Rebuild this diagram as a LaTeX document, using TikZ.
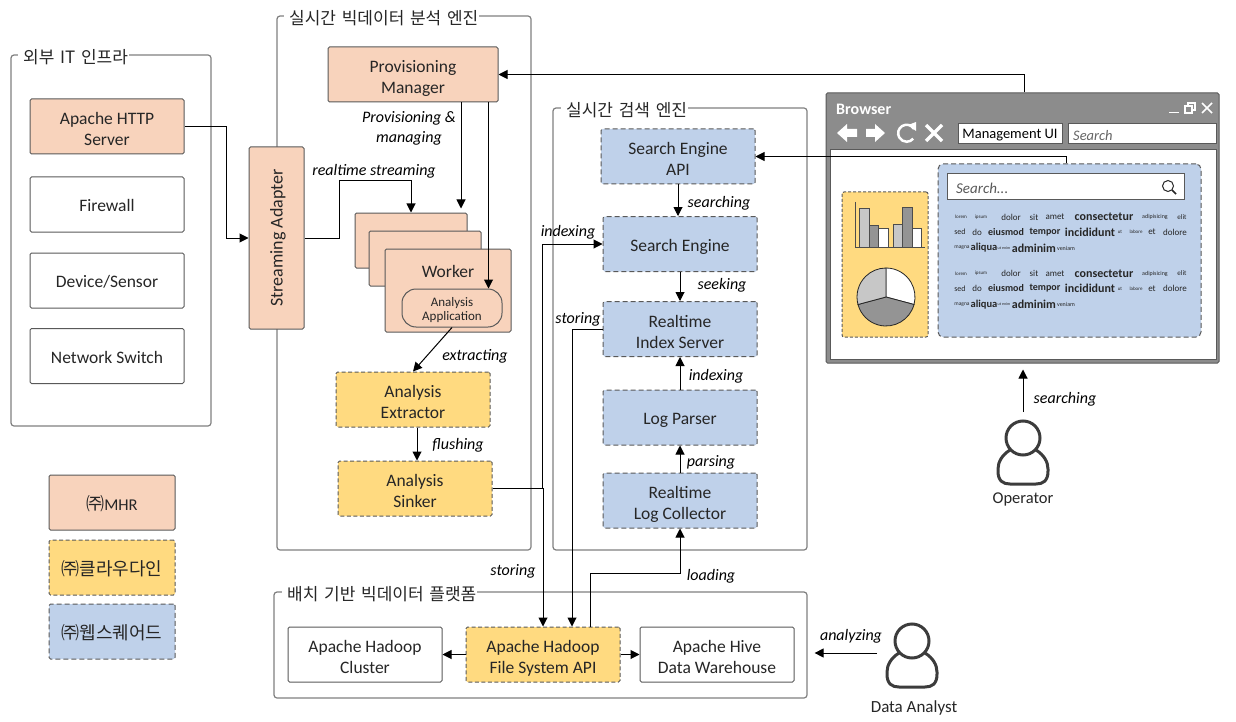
\documentclass[tikz,border=0pt]{standalone}
\usepackage{fontspec}
\setmainfont{Carlito}
\newfontfamily\krfont[WordSpace=1.5]{Noto Sans CJK KR}
\usetikzlibrary{arrows.meta,calc}

\definecolor{mhrfill}{HTML}{F8D3BC}
\definecolor{cloudfill}{HTML}{FFDA80}
\definecolor{wsqfill}{HTML}{BFD1EA}
\definecolor{boxline}{HTML}{595959}
\definecolor{frameline}{HTML}{7F7F7F}
\definecolor{browsergray}{HTML}{8C8C8C}
\definecolor{ink}{HTML}{262626}

% two centred lines, set a little below the middle of their box
\newcommand{\twolines}[2]{\rule{0pt}{22pt}#1\\#2\rule[-4pt]{0pt}{4pt}}

\tikzset{
  frame/.style={draw=frameline, line width=1.2pt, rounded corners=3pt, inner sep=0},
  frametitle/.style={fill=white, inner sep=1pt, anchor=west, text=ink, font=\krfont\fontsize{17}{19}\selectfont},
  box/.style={draw=boxline, line width=1pt, rounded corners=1.5pt, minimum width=154pt, minimum height=55pt,
    inner sep=0, align=center, text=ink, font=\fontsize{17.5}{21}\selectfont,
    execute at begin node={\rule{0pt}{19pt}}, execute at end node={\rule[-5pt]{0pt}{5pt}}},
  mhrbox/.style={box, fill=mhrfill},
  cloudbox/.style={box, fill=cloudfill, dashed, dash pattern=on 4pt off 2.5pt},
  wsqbox/.style={box, fill=wsqfill, dashed, dash pattern=on 5pt off 3pt},
  legendtext/.style={font=\krfont\fontsize{18}{21}\selectfont, execute at begin node={\rule{0pt}{21pt}}},
  lbl/.style={inner sep=0, align=center, yshift=-1pt, font=\itshape\fontsize{16}{20}\selectfont},
  wire/.style={->, black, line width=1pt},
  >={Triangle[length=9pt,width=9pt]},
  person/.pic={
    \draw[line width=3pt, draw=ink!90, fill=white, rounded corners=1pt]
      (-13,12) .. controls (-21,17) and (-25,24) .. (-25,32)
      .. controls (-25,43) and (-20,46) .. (-12,46) -- (12,46)
      .. controls (20,46) and (25,43) .. (25,32)
      .. controls (25,24) and (21,17) .. (13,12);
    \draw[line width=3pt, draw=ink!90, fill=white] (0,0) circle (17);
  },
}

\begin{document}
\begin{tikzpicture}[x=1pt, y=-1pt]
  \useasboundingbox (0,0) rectangle (1236,722);

  % Group frames
  \node[frame, minimum width=200pt, minimum height=371pt] (infra) at (111,240.5) {};
  \node[frame, minimum width=254pt, minimum height=534pt] (analytics) at (404,283) {};
  \node[frame, minimum width=254pt, minimum height=442pt] (searching) at (680,329) {};
  \node[frame, minimum width=533pt, minimum height=106pt] (batch) at (540.5,645) {};
  \node[frametitle] (infratitle) at (18,57) {\hspace{4pt}외부 IT 인프라};
  \node[frametitle] (analyticstitle) at (284,18) {\hspace{4pt}실시간 빅데이터 분석 엔진};
  \node[frametitle] (searchingtitle) at (561,110) {\hspace{4pt}실시간 검색 엔진};
  \node[frametitle] (batchtitle) at (282,594) {\hspace{4pt}배치 기반 빅데이터 플랫폼};

  % Infrastructure and legend
  \node[mhrbox] (http) at (107,126.5) {\twolines{Apache HTTP}{Server}};
  \node[box, fill=white] (firewall) at (107,204.5) {Firewall};
  \node[box, fill=white] (device) at (107,280.5) {Device/Sensor};
  \node[box, fill=white] (switch) at (107,356) {Network Switch};
  \node[mhrbox, minimum width=126pt, legendtext] (legendmhr) at (112,502.5) {㈜\rmfamily\fontsize{16.5}{21}\selectfont MHR};
  \node[cloudbox, minimum width=126pt, legendtext] (legendcloud) at (112,567.5) {㈜클라우다인};
  \node[wsqbox, minimum width=126pt, legendtext] (legendwsq) at (112,631.5) {㈜웹스퀘어드};

  % Analytics engine
  \node[mhrbox, minimum width=55pt, minimum height=182pt] (adapter) at (276.5,238) {};
  \node[rotate=90, text=ink, font=\fontsize{18}{21}\selectfont] (adaptertext) at (278,238) {Streaming Adapter};
  \node[mhrbox, minimum width=170pt] (manager) at (413,74.5) {\twolines{Provisioning}{Manager}};
  \node[mhrbox, minimum width=112pt] (workerback) at (411,240.5) {};
  \node[mhrbox, minimum width=112pt] (workermid) at (425,258.5) {};
  \node[mhrbox, minimum width=126pt, minimum height=83pt] (worker) at (448,290.5) {};
  \node[text=ink, font=\fontsize{17.5}{21}\selectfont] (workertext) at (448,271) {Worker};
  \node[draw=boxline, line width=1pt, fill=mhrfill, rounded corners=14pt, minimum width=100pt, minimum height=38pt,
    inner sep=0, align=center, text=ink, font=\fontsize{13}{14}\selectfont] (app) at (452,308) {\rule{0pt}{14pt}Analysis\\Application\rule[-4pt]{0pt}{4pt}};
  \node[cloudbox] (extractor) at (413,399.5) {\twolines{Analysis}{Extractor}};
  \node[cloudbox] (sinker) at (415,488.5) {\twolines{Analysis}{Sinker}};

  % Search engine
  \node[wsqbox] (api) at (678,156.5) {\twolines{Search Engine}{API}};
  \node[wsqbox] (engine) at (680,244) {Search Engine};
  \node[wsqbox] (index) at (680,329) {\twolines{Realtime}{Index Server}};
  \node[wsqbox] (parser) at (680,417.5) {Log Parser};
  \node[wsqbox] (collector) at (680,500.5) {\twolines{Realtime}{Log Collector}};

  % Batch platform
  \node[box, fill=white] (cluster) at (365,654.5) {\twolines{Apache Hadoop}{Cluster}};
  \node[cloudbox] (hdfs) at (543,654.5) {\twolines{Apache Hadoop}{File System API}};
  \node[box, fill=white] (hive) at (717,654.5) {\twolines{Apache Hive}{Data Warehouse}};

  % Browser
  \node[draw=boxline, line width=1pt, fill=browsergray, rounded corners=1.5pt, minimum width=393pt, minimum height=270pt, inner sep=0] (browser) at (1022.5,228) {};
  \node[draw=boxline, line width=1pt, fill=white, minimum width=386pt, minimum height=209pt, inner sep=0] (page) at (1023,254.5) {};
  \node[anchor=west, inner sep=0, text=white, font=\bfseries\fontsize{16}{18}\selectfont] (browsertitle) at (836,109) {Browser};
  \node[draw=boxline, fill=white, minimum width=104pt, minimum height=20pt, inner sep=0] (address) at (1010,133.5) {};
  \node[inner sep=0, font=\fontsize{14.5}{18}\selectfont] (addresstext) at (1010,135) {Management UI};
  \node[draw=boxline, fill=white, minimum width=148pt, minimum height=20pt, inner sep=0] (searchfield) at (1142,133.5) {};
  \node[anchor=west, inner sep=0, text=black!60, font=\itshape\fontsize{14.5}{18}\selectfont] (searchfieldtext) at (1073,135.5) {Search};
  \node[draw=boxline, dashed, dash pattern=on 3pt off 2pt, line width=1pt, fill=cloudfill, rounded corners=2pt, minimum width=86pt, minimum height=145pt, inner sep=0] (chartpanel) at (885,264.5) {};
  \node[draw=boxline, dashed, dash pattern=on 5pt off 3pt, line width=1pt, fill=wsqfill, rounded corners=5pt, minimum width=263pt, minimum height=173pt, inner sep=0] (textpanel) at (1069.5,250.5) {};
  \node[draw=boxline, fill=white, line width=1pt, minimum width=237pt, minimum height=26pt, inner sep=0] (searchbar) at (1065.5,187) {};
  \node[anchor=west, inner sep=0, text=black!65, font=\itshape\fontsize{15}{18}\selectfont] (searchbartext) at (956,188) {Search...};

  % Browser icons
  \fill[white] (837,133) -- (847,124) -- (847,129) -- (857,129) -- (857,137) -- (847,137) -- (847,142) -- cycle;
  \fill[white] (885,133) -- (875,124) -- (875,129) -- (866,129) -- (866,137) -- (875,137) -- (875,142) -- cycle;
  \draw[white, line width=2.5pt] (914,129) arc[start angle=-30, end angle=-320, radius=8.5];
  \fill[white] (908,125) -- (916,122) -- (916,131) -- cycle;
  \draw[white, line width=3.5pt] (926,125) -- (942,141) (942,125) -- (926,141);
  \draw[white, line width=1.5pt] (1169,112.5) -- (1179,112.5);
  \draw[white, line width=1.2pt] (1185,106) rectangle (1192,113) (1188,106) -- (1188,103) -- (1195,103) -- (1195,110) -- (1192,110);
  \draw[white, line width=1.5pt] (1202,103) -- (1212,113) (1212,103) -- (1202,113);
  \draw[ink, line width=1pt] (1168,186) circle (5.5);
  \draw[ink, line width=1.6pt] (1172,190) -- (1176,194);

  % Bar chart
  \foreach \bx/\bw/\bt/\bc in {859/10/208/black!22, 869/9/225/black!42, 878/10/228/white, 893/9/224/black!22, 902/10/207/black!42, 912/9/228/white}
    \draw[fill=\bc, draw=black!70, line width=0.8pt] (\bx,247) rectangle ++(\bw,\bt-247);
  \draw[black!70, line width=1pt] (855,202) -- (855,247) -- (925,247);

  % Pie chart
  \draw[fill=white, draw=ink, line width=0.8pt] (886,297) -- ++(-90:29) arc[start angle=-90, end angle=15, radius=29] -- cycle;
  \draw[fill=black!42, draw=ink, line width=0.8pt] (886,297) -- ++(15:29) arc[start angle=15, end angle=165, radius=29] -- cycle;
  \draw[fill=black!22, draw=ink, line width=0.8pt] (886,297) -- ++(165:29) arc[start angle=165, end angle=270, radius=29] -- cycle;

  % Greeked text
  \foreach \py/\pn in {0/a, 56.5/b}
    \foreach \wx/\wy/\wsize/\wser/\wtext [count=\wi] in {
      961/217/5/m/lorem, 981/217/5/m/ipsum, 1011/217/9/m/dolor, 1034/217/9/m/sit, 1055/217/9/m/amet,
      1104/217/12/b/consectetur, 1155/217/6/m/adipisicing, 1182/217/7/m/elit,
      960/232/8/m/sed, 977/232/9/m/do, 1006/232/10/b/eiusmod, 1045/232/10/b/tempor, 1090/232/12/b/incididunt,
      1120/232/5/m/ut, 1136/232/5/m/labore, 1152/232/9/m/et, 1175/232/9/m/dolore,
      962/248/5.5/m/magna, 984/248/10.5/b/aliqua, 1004/248/4/m/ut enim, 1018/248/12/b/ad, 1040/248/12/b/minim, 1066/248/6/m/veniam}
      \node[inner sep=0, text=ink, font=\fontseries{\wser}\fontsize{\wsize}{\wsize}\selectfont] (word\pn\wi) at (\wx,\wy+\py) {\wtext};

  % Wires
  \draw[wire] (http.east) -- ++(42,0) |- (adapter.west);
  \draw[wire] (adapter.east) -- ++(35,0) -- ++(0,-57) -| (workerback.north);
  \draw[wire, shorten >=4pt] ([xshift=48]manager.south) -- ([xshift=50]workerback.north);
  \draw[wire] ([xshift=75.5]manager.south) -- ([xshift=36.5]app.north);
  \draw[wire] (app.south) -- (extractor.north);
  \draw[wire] ([xshift=4]extractor.south) -- ([xshift=2]sinker.north);
  \draw[wire] (sinker.east) -- ++(50,0) |- (engine.west);
  \draw[wire] (sinker.east) -| (hdfs.north);
  \draw[wire] (index.west) -| ([xshift=29]hdfs.north);
  \draw[wire] ([xshift=47]hdfs.north) -- ++(0,-53) -| (collector.south);
  \draw[wire] (collector.north) -- (parser.south);
  \draw[wire] (parser.north) -- (index.south);
  \draw[wire] (engine.south) -- (index.north);
  \draw[wire] (api.south) -- ([xshift=-2]engine.north);
  \draw[wire] ([xshift=1.5]browser.north) |- (manager.east);
  \draw[wire] ([xshift=-3.5]textpanel.north) |- (api.east);
  \draw[wire] (hdfs.west) -- (cluster.east);
  \draw[wire] (hdfs.east) -- (hive.west);

  % Actors
  \pic (operatoricon) at (1023,438) {person};
  \node[text=ink, inner sep=0, font=\fontsize{16.5}{18}\selectfont] (operator) at (1023,499.5) {Operator};
  \coordinate (operatortop) at (1023,412);
  \draw[wire, shorten >=6pt] (operatortop) -- (browser.south -| operatortop);
  \pic (analysticon) at (912,641) {person};
  \node[text=ink, inner sep=0, font=\fontsize{17}{18}\selectfont] (analyst) at (914,708) {Data Analyst};
  \coordinate (analystarm) at (877,653);
  \draw[wire, shorten >=7pt] (analystarm) -- (batch.east |- analystarm);

  % Wire labels
  \node[lbl] (lblprovisioning) at (409,127) {Provisioning \&\\managing};
  \node[lbl] (lblstreaming) at (374,170) {realtime streaming};
  \node[lbl] (lblextracting) at (475,355) {extracting};
  \node[lbl] (lblflushing) at (458,444) {flushing};
  \node[lbl] (lblsearching) at (719,202) {searching};
  \node[lbl] (lblindexing) at (568,231) {indexing};
  \node[lbl] (lblseeking) at (722,284) {seeking};
  \node[lbl] (lblstoring) at (578,318) {storing};
  \node[lbl] (lblindexingb) at (716,375) {indexing};
  \node[lbl] (lblparsing) at (711,461) {parsing};
  \node[lbl] (lblstoringb) at (513,570) {storing};
  \node[lbl] (lblloading) at (711,575) {loading};
  \node[lbl] (lblanalyzing) at (851,635) {analyzing};
  \node[lbl] (lblsearchingb) at (1065,398) {searching};
\end{tikzpicture}
\end{document}
